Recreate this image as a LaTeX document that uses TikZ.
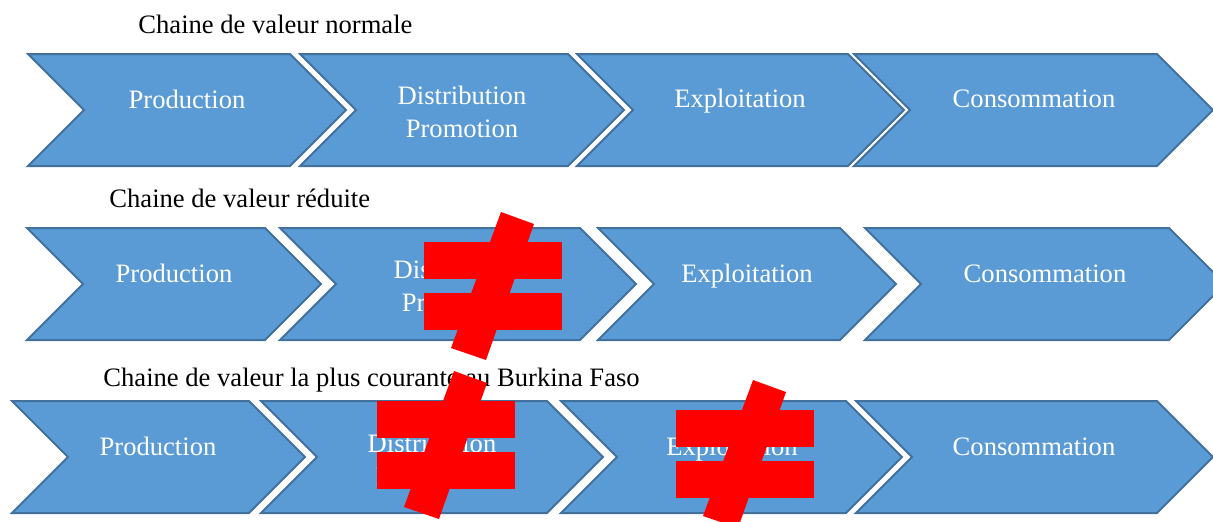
\documentclass[tikz,border=0pt]{standalone}
\usepackage{fontspec}
\setmainfont{Liberation Serif}
\definecolor{chevfill}{HTML}{5B9BD5}
\definecolor{chevline}{HTML}{41719C}
\tikzset{
  chev/.style={fill=chevfill, draw=chevline, line width=1pt},
  lbl/.style={text=white, font=\fontsize{13.3}{16.5}\selectfont, inner sep=0pt, align=center},
  titre/.style={font=\fontsize{13.3}{16}\selectfont, inner sep=0pt, anchor=base west},
  barre/.style={fill=red},
}
% chevron: left x, top-right x, top y
\newcommand{\chevron}[3]{%
  \draw[chev] (#1,#3) -- (#2,#3) -- (#2+56,#3+56) -- (#2,#3+112) -- (#1,#3+112) -- (#1+56,#3+56) -- cycle;}
% red "not equal" sign, centre x y
\newcommand{\pasegal}[2]{%
  \fill[barre] (#1-69,#2-44) rectangle (#1+69,#2-7);
  \fill[barre] (#1-69,#2+7) rectangle (#1+69,#2+44);
  \fill[barre] (#1+8,#2-74) -- (#1+41,#2-62) -- (#1-7,#2+74) -- (#1-42,#2+62) -- cycle;}

\begin{document}
\begin{tikzpicture}[x=0.5pt, y=-0.5pt]
            \useasboundingbox (0,0) rectangle (1213,521);

            % chaine normale
            \node[titre] (t1) at (138,33) {Chaine de valeur normale};
            \chevron{28}{290}{54}
            \chevron{300}{568}{54}
            \chevron{577}{848}{54}
            \chevron{854}{1157}{54}
            \node[lbl, anchor=base] (p1) at (187,108) {Production};
            \node[lbl] (d1) at (462,112) {Distribution\\Promotion};
            \node[lbl, anchor=base] (e1) at (740,107) {Exploitation};
            \node[lbl, anchor=base] (c1) at (1034,107) {Consommation};

            % chaine reduite
            \node[titre] (t2) at (109,207) {Chaine de valeur réduite};
            \chevron{27}{265}{228}
            \chevron{280}{580}{228}
            \chevron{598}{840}{228}
            \chevron{865}{1169}{228}
            \node[lbl, anchor=base] (p2) at (174,282) {Production};
            \node[lbl] (d2) at (458,286) {Distribution\\Promotion};
            \node[lbl, anchor=base] (e2) at (747,282) {Exploitation};
            \node[lbl, anchor=base] (c2) at (1045,282) {Consommation};

            % chaine courante
            \node[titre] (t3) at (103,386) {Chaine de valeur la plus courante au Burkina Faso};
            \chevron{12}{249}{401}
            \chevron{261}{547}{401}
            \chevron{561}{846}{401}
            \chevron{856}{1157}{401}
            \node[lbl, anchor=base] (p3) at (158,455) {Production};
            \node[lbl] (d3) at (432,460) {Distribution\\Promotion};
            \node[lbl, anchor=base] (e3) at (732,455) {Exploitation};
            \node[lbl, anchor=base] (c3) at (1034,455) {Consommation};

            % maillons absents
            \pasegal{493}{286}
            \pasegal{446}{445}
            \pasegal{745}{454}
        \end{tikzpicture}
\end{document}
